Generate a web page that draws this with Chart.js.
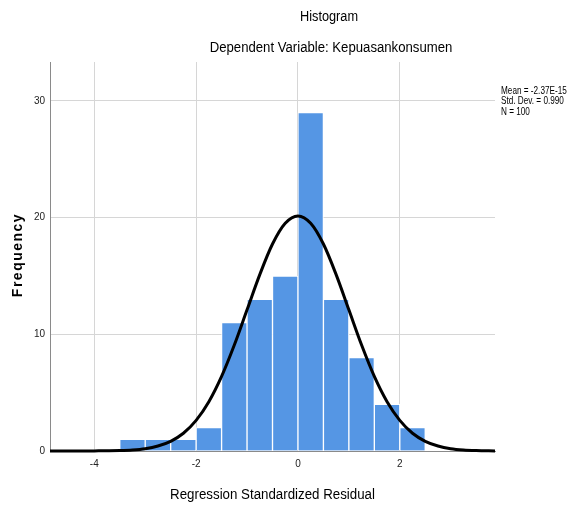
<!DOCTYPE html>
<html>
<head>
<meta charset="utf-8">
<script src="https://cdn.jsdelivr.net/npm/chart.js@4.4.1/dist/chart.umd.min.js"></script>
<style>
  html, body { margin: 0; padding: 0; background: #fff; }
  #wrap { width: 568px; height: 508px; position: relative; }
</style>
</head>
<body>
<div id="wrap"><canvas id="chart"></canvas></div>
<script>
// histogram bins (width 0.5) and counts
const binCenters = [-3.25, -2.75, -2.25, -1.75, -1.25, -0.75, -0.25, 0.25, 0.75, 1.25, 1.75, 2.25]
const frequencies = [1, 1, 1, 2, 11, 13, 15, 29, 13, 8, 4, 2]

// normal curve
const curveX = [-4.87, -4.5, -4.25, -4, -3.75, -3.5, -3.25, -3, -2.75, -2.5, -2.25, -2, -1.75, -1.5, -1.25, -1, -0.75, -0.5, -0.25, 0,
  0.25, 0.5, 0.75, 1, 1.25, 1.5, 1.75, 2, 2.25, 2.5, 2.75, 3, 3.25, 3.5, 3.87]
const curveY = [0, 0, 0, 0.01, 0.02, 0.04, 0.09, 0.20, 0.43, 0.83, 1.52, 2.62, 4.22, 6.39, 9.08, 12.10, 15.12, 17.74, 19.52, 20.15,
  19.52, 17.74, 15.12, 12.10, 9.08, 6.39, 4.22, 2.62, 1.52, 0.83, 0.43, 0.20, 0.09, 0.04, 0.01]

const xTicks = [-4, -2, 0, 2]
const yTicks = [0, 10, 20, 30]
const statsLines = ['Mean = -2.37E-15', 'Std. Dev. = 0.990', 'N = 100']

const titleText = 'Histogram'
const subtitleText = 'Dependent Variable: Kepuasankonsumen'
const xTitle = 'Regression Standardized Residual'
const yTitle = 'Frequency'

const sans = '"Liberation Sans", Arial, sans-serif'

// text squeezed horizontally, the original uses a condensed face
function squeezed(ctx, text, x, y, sx) {
  ctx.save()
  ctx.translate(x, y)
  ctx.scale(sx, 1)
  ctx.fillText(text, 0, 0)
  ctx.restore()
}

const textPlugin = {
  id: 'texts',
  afterDraw(chart) {
    const ctx = chart.ctx
    const area = chart.chartArea
    ctx.save()
    ctx.fillStyle = '#000'
    ctx.textBaseline = 'middle'
    ctx.textAlign = 'center'
    ctx.font = '14px ' + sans
    squeezed(ctx, titleText, 329, 17, 0.91)
    squeezed(ctx, subtitleText, 331, 48, 0.94)
    squeezed(ctx, xTitle, (area.left + area.right) / 2, 495, 0.95)

    ctx.save()
    ctx.translate(18, 255)
    ctx.rotate(-Math.PI / 2)
    ctx.font = 'bold 14px ' + sans
    ctx.letterSpacing = '1.5px'
    ctx.fillText(yTitle, 0, 0)
    ctx.restore()

    ctx.textAlign = 'left'
    ctx.font = '10.5px ' + sans
    statsLines.forEach((t, i) => squeezed(ctx, t, 501, 91 + i * 10.5, 0.78))
    ctx.restore()
  }
}

new Chart(document.getElementById('chart'), {
  type: 'bar',
  data: {
    datasets: [
      {
        type: 'line',
        order: 0,
        data: curveX.map((x, i) => ({ x: x, y: curveY[i] })),
        borderColor: '#000',
        borderWidth: 3,
        pointRadius: 0,
        cubicInterpolationMode: 'monotone',
        fill: false,
        clip: false
      },
      {
        type: 'bar',
        order: 1,
        data: binCenters.map((x, i) => ({ x: x, y: frequencies[i] })),
        backgroundColor: 'rgb(85,150,228)',
        borderColor: '#fff',
        borderWidth: 1,
        barPercentage: 1,
        categoryPercentage: 1
      }
    ]
  },
  options: {
    responsive: true,
    maintainAspectRatio: false,
    animation: false,
    layout: { padding: { left: 0, top: 62, right: 73, bottom: 0 } },
    plugins: { legend: { display: false }, tooltip: { enabled: false } },
    scales: {
      x: {
        type: 'linear',
        min: -4.87,
        max: 3.87,
        offset: false,
        afterBuildTicks: s => { s.ticks = xTicks.map(v => ({ value: v })) },
        afterFit: s => { s.height = 57 },
        grid: { color: '#d6d6d6', drawTicks: false, offset: false },
        border: { color: '#8a8a8a' },
        ticks: { color: '#222', padding: 7, font: { family: sans, size: 10 }, maxRotation: 0 }
      },
      y: {
        min: 0,
        max: 33.34,
        afterBuildTicks: s => { s.ticks = yTicks.map(v => ({ value: v })) },
        afterFit: s => { s.width = 50 },
        grid: { color: '#d6d6d6', drawTicks: false },
        border: { color: '#8a8a8a' },
        ticks: { color: '#222', padding: 5, font: { family: sans, size: 10 } }
      }
    }
  },
  plugins: [textPlugin]
})
</script>
</body>
</html>
